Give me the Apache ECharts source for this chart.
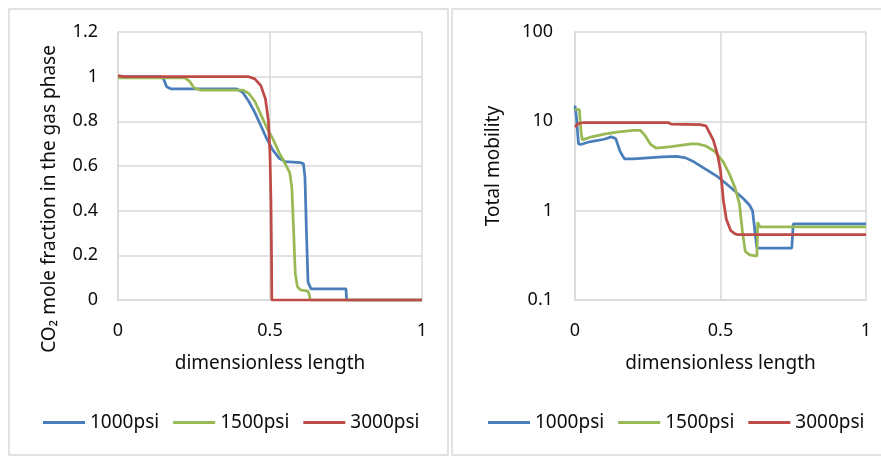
<!DOCTYPE html>
<html>
<head>
	<meta charset="utf-8">
	<title>CO2 fraction and mobility</title>
	<script src="https://cdn.jsdelivr.net/npm/echarts@6/dist/echarts.min.js"></script>
	<style>
		html, body { margin: 0; padding: 0; background: #fff; }
		#chart { width: 881px; height: 457px; }
	</style>
</head>
<body>
	<div id="chart"></div>
	<script>
		var seriesNames = ['1000psi', '1500psi', '3000psi'];
		var xTicks = [0, 0.5, 1];
		var fracTicks = [0, 0.2, 0.4, 0.6, 0.8, 1, 1.2];
		var mobTicks = [0.1, 1, 10, 100];

		// CO2 mole fraction in the gas phase
		var frac1000 = [[0, 1], [0.14, 1], [0.15, 0.99], [0.16, 0.955], [0.175, 0.945], [0.39, 0.945], [0.41, 0.93],
			[0.43, 0.89], [0.45, 0.84], [0.47, 0.78], [0.49, 0.72], [0.51, 0.67], [0.53, 0.635], [0.55, 0.62],
			[0.6, 0.615], [0.61, 0.61], [0.615, 0.55], [0.62, 0.3], [0.625, 0.08], [0.635, 0.05], [0.75, 0.05],
			[0.752, 0], [1, 0]];
		var frac1500 = [[0, 0.995], [0.22, 0.995], [0.235, 0.98], [0.25, 0.95], [0.27, 0.94], [0.41, 0.94],
			[0.43, 0.925], [0.45, 0.89], [0.47, 0.83], [0.49, 0.77], [0.51, 0.72], [0.53, 0.66], [0.55, 0.61],
			[0.565, 0.57], [0.572, 0.5], [0.578, 0.3], [0.583, 0.12], [0.59, 0.06], [0.6, 0.045], [0.625, 0.04],
			[0.63, 0.02], [0.632, 0], [1, 0]];
		var frac3000 = [[0, 1.005], [0.02, 1], [0.43, 1], [0.45, 0.99], [0.47, 0.96], [0.485, 0.9], [0.495, 0.8],
			[0.5, 0.65], [0.503, 0.45], [0.505, 0.2], [0.506, 0], [1, 0]];

		// total mobility
		var mob1000 = [[0, 15], [0.005, 11], [0.012, 5.6], [0.02, 5.5], [0.05, 5.9], [0.1, 6.3], [0.125, 6.7],
			[0.14, 6.4], [0.155, 4.6], [0.17, 3.8], [0.2, 3.8], [0.3, 4.0], [0.35, 4.05], [0.38, 3.9], [0.41, 3.5],
			[0.45, 2.9], [0.49, 2.4], [0.52, 2.0], [0.55, 1.65], [0.58, 1.35], [0.6, 1.15], [0.61, 1.0],
			[0.618, 0.6], [0.625, 0.38], [0.745, 0.38], [0.75, 0.71], [1, 0.71]];
		var mob1500 = [[0, 13.5], [0.015, 13.5], [0.02, 8], [0.025, 6.2], [0.05, 6.6], [0.1, 7.2], [0.15, 7.6],
			[0.2, 7.9], [0.225, 7.9], [0.24, 7.0], [0.26, 5.5], [0.28, 5.0], [0.33, 5.2], [0.4, 5.6], [0.42, 5.6],
			[0.45, 5.3], [0.48, 4.6], [0.51, 3.5], [0.53, 2.6], [0.55, 1.8], [0.565, 1.2], [0.575, 0.6],
			[0.585, 0.35], [0.6, 0.32], [0.625, 0.31], [0.628, 0.74], [0.635, 0.66], [1, 0.66]];
		var mob3000 = [[0, 8.6], [0.01, 9.4], [0.03, 9.7], [0.32, 9.7], [0.33, 9.3], [0.43, 9.2], [0.45, 8.9],
			[0.475, 6.2], [0.49, 4.2], [0.5, 2.8], [0.51, 1.3], [0.52, 0.8], [0.535, 0.6], [0.55, 0.55],
			[0.56, 0.54], [1, 0.54]];

		var colors = ['#4A7EBB', '#98B954', '#BE4B48'];
		var font = 'Noto Sans';
		var textColor = '#0d0d0d';
		var gridColor = '#d9d9d9';

		var myChart = echarts.init(document.getElementById('chart'), null, { renderer: 'canvas' });

		function xAxisOpt(gridIndex) {
			return {
				type: 'value', gridIndex: gridIndex, min: xTicks[0], max: xTicks[xTicks.length - 1], interval: 0.5,
				name: 'dimensionless length', nameLocation: 'middle', nameGap: 54,
				nameTextStyle: { fontFamily: font, fontSize: 19, color: textColor },
				axisLine: { show: true, lineStyle: { color: gridColor, width: 1.5 } },
				axisTick: { show: false },
				splitLine: { show: true, lineStyle: { color: gridColor, width: 1.5 } },
				axisLabel: { fontFamily: font, fontSize: 18, color: textColor, margin: 22 }
			};
		}

		function lineSeries(name, idx, data, axisIndex) {
			return {
				name: name, type: 'line', data: data, xAxisIndex: axisIndex, yAxisIndex: axisIndex,
				symbol: 'none', smooth: false, animation: false,
				lineStyle: { color: colors[idx], width: 2.75 }, itemStyle: { color: colors[idx] }
			};
		}

		function legendOpt(left) {
			return {
				data: seriesNames, left: left, top: 413, width: 430, padding: 0,
				icon: 'rect', itemWidth: 42, itemHeight: 3, itemGap: 14,
				textStyle: { fontFamily: font, fontSize: 19, color: textColor }
			};
		}

		var option = {
			backgroundColor: '#fff',
			animation: false,
			graphic: [
				{ type: 'rect', shape: { x: 9, y: 9, width: 439, height: 446 }, style: { fill: 'none', stroke: gridColor, lineWidth: 1.5 } },
				{ type: 'rect', shape: { x: 452, y: 9, width: 440, height: 446 }, style: { fill: 'none', stroke: gridColor, lineWidth: 1.5 } },
				{
					type: 'text', x: 50, y: 199, rotation: Math.PI / 2,
					style: {
						text: 'CO₂ mole fraction in the gas phase', fontFamily: font, fontSize: 19, fill: textColor,
						align: 'center', verticalAlign: 'middle'
					}
				}
			],
			legend: [legendOpt(43), legendOpt(488)],
			grid: [
				{ left: 118, right: 459, top: 32, bottom: 157 },
				{ left: 575, right: 15, top: 32, bottom: 157 }
			],
			xAxis: [xAxisOpt(0), xAxisOpt(1)],
			yAxis: [
				{
					type: 'value', gridIndex: 0, min: fracTicks[0], max: fracTicks[fracTicks.length - 1], interval: 0.2,
					axisLine: { show: true, lineStyle: { color: gridColor, width: 1.5 } },
					axisTick: { show: false },
					splitLine: { show: true, lineStyle: { color: gridColor, width: 1.5 } },
					axisLabel: { fontFamily: font, fontSize: 18, color: textColor, margin: 20 }
				},
				{
					type: 'log', logBase: 10, gridIndex: 1, min: mobTicks[0], max: mobTicks[mobTicks.length - 1],
					name: 'Total mobility', nameLocation: 'middle', nameGap: 72,
					nameTextStyle: { fontFamily: font, fontSize: 19, color: textColor },
					axisLine: { show: true, lineStyle: { color: gridColor, width: 1.5 } },
					axisTick: { show: false },
					splitLine: { show: true, lineStyle: { color: gridColor, width: 1.5 } },
					axisLabel: { fontFamily: font, fontSize: 18, color: textColor, margin: 22 }
				}
			],
			series: [
				lineSeries(seriesNames[0], 0, frac1000, 0),
				lineSeries(seriesNames[1], 1, frac1500, 0),
				lineSeries(seriesNames[2], 2, frac3000, 0),
				lineSeries(seriesNames[0], 0, mob1000, 1),
				lineSeries(seriesNames[1], 1, mob1500, 1),
				lineSeries(seriesNames[2], 2, mob3000, 1)
			]
		};
		myChart.setOption(option);
	</script>
</body>
</html>
